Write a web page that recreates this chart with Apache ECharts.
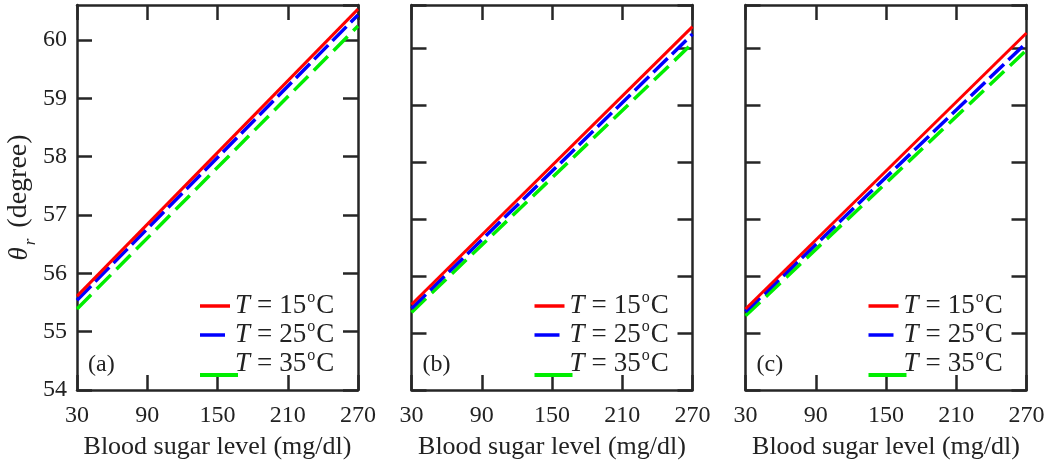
<!DOCTYPE html>
<html><head><meta charset="utf-8">
<script src="https://cdn.jsdelivr.net/npm/echarts@6/dist/echarts.min.js"></script>
<style>html,body{margin:0;padding:0;background:#fff}#c{width:1054px;height:463px}</style>
</head><body><div id="c"></div>
<script>
// ---- data ----
const xValues = [30, 270];
const xTicks = [30, 90, 150, 210, 270];
const yTicks = [54, 55, 56, 57, 58, 59, 60];
const panelLabels = ['(a)', '(b)', '(c)'];
const temps = ['15', '25', '35'];
const a_T15 = [55.61, 60.53];
const a_T25 = [55.54, 60.43];
const a_T35 = [55.39, 60.24];
const b_T15 = [55.50, 60.37];
const b_T25 = [55.43, 60.24];
const b_T35 = [55.36, 60.08];
const c_T15 = [55.42, 60.26];
const c_T25 = [55.37, 60.09];
const c_T35 = [55.30, 59.96];
const yMaxes = [60.6, 60.75, 60.75];

// ---- layout / style ----
const panels = [[a_T15, a_T25, a_T35], [b_T15, b_T25, b_T35], [c_T15, c_T25, c_T35]];
const gridLefts = [77, 411.5, 745.5];
const gridW = 281, gridTop = 5, gridH = 385;
const colors = ['#ff0000', '#0000ff', '#00ee00'];
const dashes = ['solid', [20, 6], [20, 8]];
const FONT = '"Liberation Serif", "DejaVu Serif", serif';
const AX = '#262626';

const grids = [], xAxes = [], yAxes = [], series = [], graphics = [];
const axLine = { show: true, lineStyle: { color: AX, width: 2.5 } };
const axTick = { show: true, inside: true, length: 15, lineStyle: { color: AX, width: 2.5 } };

panels.forEach((pan, p) => {
  grids.push({ left: gridLefts[p], top: gridTop, width: gridW, height: gridH, outerBoundsMode: 'none', containLabel: false });
  const xBase = { type: 'value', gridIndex: p, min: xTicks[0], max: xTicks[xTicks.length - 1], interval: 60,
    splitLine: { show: false }, axisLine: axLine, axisTick: axTick };
  xAxes.push(Object.assign({}, xBase, { position: 'bottom',
    axisLabel: { show: true, margin: 14, color: '#222', fontSize: 24, fontFamily: FONT },
    name: 'Blood sugar level (mg/dl)', nameLocation: 'middle', nameGap: 44,
    nameTextStyle: { color: '#222', fontSize: 26, fontFamily: FONT } }));
  xAxes.push(Object.assign({}, xBase, { position: 'top', axisLabel: { show: false } }));
  const yBase = { type: 'value', gridIndex: p, min: yTicks[0], max: yMaxes[p], interval: 1,
    splitLine: { show: false }, axisLine: axLine, axisTick: axTick };
  const yLeft = Object.assign({}, yBase, { position: 'left',
    axisLabel: { show: p === 0, showMaxLabel: false, margin: 10, color: '#222', fontSize: 24, fontFamily: FONT,
      formatter: v => (Number.isInteger(v) ? String(v) : '') } });
  if (p === 0) {
    yLeft.name = '{t|θ}{s|r}{n| (degree)}';
    yLeft.nameLocation = 'middle';
    yLeft.nameGap = 40;
    yLeft.nameTextStyle = { color: '#222', fontFamily: FONT, rich: {
      t: { fontSize: 27, fontStyle: 'italic', fontFamily: FONT, color: '#222', lineHeight: 30, verticalAlign: 'bottom', padding: [0, 2, 0, 0] },
      s: { fontSize: 17, fontStyle: 'italic', fontFamily: FONT, color: '#222', lineHeight: 30, verticalAlign: 'bottom', padding: [0, 4, -6, 0] },
      n: { fontSize: 28, fontFamily: FONT, color: '#222', lineHeight: 30, verticalAlign: 'bottom' } } };
  }
  yAxes.push(yLeft);
  yAxes.push(Object.assign({}, yBase, { position: 'right', axisLabel: { show: false } }));

  pan.forEach((vals, k) => {
    series.push({ type: 'line', xAxisIndex: 2 * p, yAxisIndex: 2 * p, symbol: 'none', silent: true,
      data: vals.map((v, i) => [xValues[i], v]), z: 3 - k,
      lineStyle: { color: colors[k], width: k === 0 ? 3 : 3.5, type: dashes[k] } });
  });

  // legend (drawn as graphics to mimic the reference's layout)
  const bx = gridLefts[p] + 123;
  const lineY = [306, 335, 375], lineLen = [30, 25, 38], textY = [304, 333, 362];
  temps.forEach((t, k) => {
    graphics.push({ type: 'line', shape: { x1: bx, y1: lineY[k], x2: bx + lineLen[k], y2: lineY[k] },
      style: { stroke: colors[k], lineWidth: k === 2 ? 4 : 3.5 }, z: 10 });
    graphics.push({ type: 'text', x: bx + 35, y: textY[k], z: 10,
      style: { text: '{i|T}{e|=}{n|' + t + '}{s|o}{n|C}', verticalAlign: 'middle', fill: '#222',
        rich: {
          i: { fontSize: 27, fontStyle: 'italic', fontFamily: FONT, fill: '#222', lineHeight: 30, verticalAlign: 'bottom' },
          e: { fontSize: 27, fontFamily: FONT, fill: '#222', lineHeight: 30, verticalAlign: 'bottom', padding: [0, 7, 0, 7] },
          n: { fontSize: 27, fontFamily: FONT, fill: '#222', lineHeight: 30, verticalAlign: 'bottom' },
          s: { fontSize: 16, fontFamily: FONT, fill: '#222', lineHeight: 30, verticalAlign: 'top', padding: [1, 1, 0, 1] } } } });
  });
  graphics.push({ type: 'text', x: gridLefts[p] + 11, y: 365, z: 10,
    style: { text: panelLabels[p], verticalAlign: 'middle', font: '24px ' + FONT, fill: '#222' } });
});

const chart = echarts.init(document.getElementById('c'), null, { renderer: 'canvas' });
chart.setOption({ animation: false, backgroundColor: '#fff', grid: grids, xAxis: xAxes, yAxis: yAxes, series, graphic: graphics });
</script></body></html>
